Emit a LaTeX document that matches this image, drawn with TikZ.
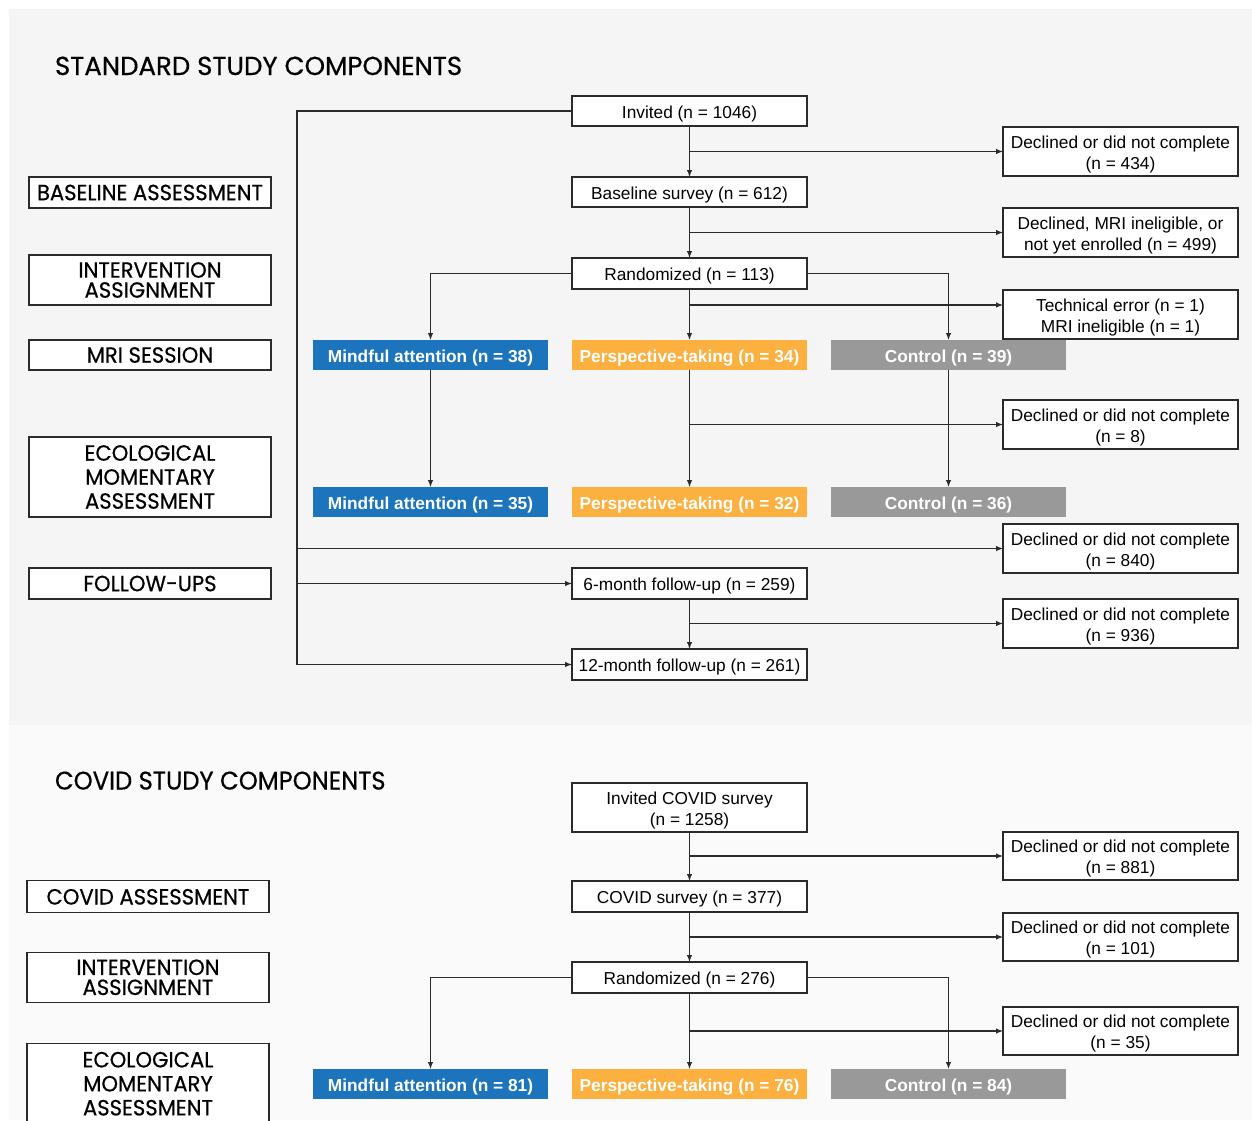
\documentclass[tikz,border=0pt]{standalone}
\usepackage{fontspec}
\setmainfont{Liberation Sans}
\newfontfamily\stagefont[FakeStretch=0.96,FakeBold=0.5]{Poppins}
\newfontfamily\headfont[FakeStretch=1.0,FakeBold=0.5]{Poppins}
\newfontfamily\headfontnarrow[FakeStretch=0.95,FakeBold=0.5]{Poppins}
\usetikzlibrary{arrows.meta,calc}
\definecolor{panelA}{HTML}{F5F5F5}
\definecolor{panelB}{HTML}{FAFAFA}
\definecolor{ink}{HTML}{2B2B2B}
\definecolor{mindblue}{HTML}{1C75BC}
\definecolor{perspor}{HTML}{FBB040}
\definecolor{ctrlgray}{HTML}{999999}

\begin{document}
\begin{tikzpicture}[x=1pt,y=-1pt,
  every node/.style={inner sep=0pt, outer sep=0pt},
  flowbox/.style={draw=ink, fill=white, line width=1.1pt, minimum width=235pt, minimum height=#1,
    align=center, text height=18pt, font=\fontsize{17.3}{21}\selectfont},
  flowbox/.default=31pt,
  % two-line boxes: the text block is a vbox whose baseline is its last line
  flowtwo/.style={flowbox=#1, text height=39.5pt},
  flowtwo/.default=49pt,
  stagebox/.style={draw=ink, fill=white, line width=1.1pt, minimum width=242pt, minimum height=#1,
    align=center, font=\stagefont\fontsize{22}{20}\selectfont},
  stagebox/.default=31pt,
  armbox/.style={fill=#1, minimum width=235pt, minimum height=30pt, text=white,
    text height=18pt, font=\bfseries\fontsize{17.3}{21}\selectfont},
  conn/.style={draw=ink, line width=1.1pt},
  arr/.style={conn, -{Latex[length=7pt,width=5.5pt]}},
  heading/.style={anchor=base west, font=\headfont\fontsize{26}{30}\selectfont}
]
\useasboundingbox (0,0) rectangle (1252,1120);
% panels
\fill[panelA] (9,9) rectangle (1252,725);
\fill[panelB] (9,725) rectangle (1252,1120);

% ---------------- standard study ----------------
\node[heading] (t1) at (55,75) {STANDARD STUDY COMPONENTS};

\node[stagebox] (s1) at (150,192.5) {BASELINE ASSESSMENT};
\node[stagebox=50pt] (s2) at (150,280) {INTERVENTION\\ASSIGNMENT};
\node[stagebox=30pt] (s3) at (150,355) {MRI SESSION};
\node[stagebox=80pt, font=\stagefont\fontsize{22}{24}\selectfont] (s4) at (150,477) {ECOLOGICAL\\MOMENTARY\\ASSESSMENT};
\node[stagebox] (s5) at (150,583.5) {FOLLOW-UPS};

\node[flowbox=30pt] (inv) at (689.5,111) {Invited (n = 1046)};
\node[flowbox=30pt] (base) at (689.5,192) {Baseline survey (n = 612)};
\node[flowbox] (rand) at (689.5,273.5) {Randomized (n = 113)};
\node[flowbox] (fu6) at (689.5,583.5) {6-month follow-up (n = 259)};
\node[flowbox] (fu12) at (689.5,664.5) {12-month follow-up (n = 261)};

\node[flowtwo] (d1) at (1120.5,151.5) {Declined or did not complete\\(n = 434)};
\node[flowtwo] (d2) at (1120.5,232.5) {Declined, MRI ineligible, or\\not yet enrolled (n = 499)};
\node[flowtwo] (tech) at (1120.5,314.5) {Technical error (n = 1)\\MRI ineligible (n = 1)};
\node[flowtwo] (d3) at (1120.5,424.5) {Declined or did not complete\\(n = 8)};
\node[flowtwo] (d4) at (1120.5,548.5) {Declined or did not complete\\(n = 840)};
\node[flowtwo] (d5) at (1120.5,623.5) {Declined or did not complete\\(n = 936)};

\node[armbox=mindblue] (ma1) at (430.5,355) {Mindful attention (n = 38)};
\node[armbox=perspor] (pt1) at (689.5,355) {Perspective-taking (n = 34)};
\node[armbox=ctrlgray] (ct1) at (948.5,355) {Control (n = 39)};
\node[armbox=mindblue] (ma2) at (430.5,502) {Mindful attention (n = 35)};
\node[armbox=perspor] (pt2) at (689.5,502) {Perspective-taking (n = 32)};
\node[armbox=ctrlgray] (ct2) at (948.5,502) {Control (n = 36)};

\coordinate (spine) at (297,0);
\coordinate (techrow) at (0,305);

\draw[arr] (inv) -- (base);
\draw[arr] (inv.south |- d1.west) -- (d1.west);
\draw[arr] (base) -- (rand);
\draw[arr] (base.south |- d2.west) -- (d2.west);
\draw[arr] (rand.west) -| (ma1.north);
\draw[arr] (rand) -- (pt1);
\draw[arr] (rand.east) -| (ct1.north);
\draw[arr] (rand.south |- techrow) -- (tech.west |- techrow);
\draw[arr] (ma1) -- (ma2);
\draw[arr] (pt1) -- (pt2);
\draw[arr] (ct1) -- (ct2);
\draw[arr] (pt1.south |- d3.west) -- (d3.west);
\draw[arr] (inv.west) -| (spine |- fu12.west) -- (fu12.west);
\draw[arr] (spine |- d4.west) -- (d4.west);
\draw[arr] (spine |- fu6.west) -- (fu6.west);
\draw[arr] (fu6) -- (fu12);
\draw[arr] (fu6.south |- d5.west) -- (d5.west);

% ---------------- COVID study ----------------
\node[heading, font=\headfontnarrow\fontsize{25.5}{30}\selectfont] (t2) at (55,789.5) {COVID STUDY COMPONENTS};

\node[stagebox=32pt] (c1) at (148,896.8) {COVID ASSESSMENT};
\node[stagebox=50pt] (c2) at (148,977.3) {INTERVENTION\\ASSIGNMENT};
\node[stagebox=80pt, font=\stagefont\fontsize{22}{24}\selectfont] (c3) at (148,1083.7) {ECOLOGICAL\\MOMENTARY\\ASSESSMENT};

\node[flowtwo] (cinv) at (689.5,807.5) {Invited COVID survey\\(n = 1258)};
\node[flowbox] (csurv) at (689.5,896.5) {COVID survey (n = 377)};
\node[flowbox] (crand) at (689.5,977.5) {Randomized (n = 276)};

\node[flowtwo=48pt] (cd1) at (1120.5,856) {Declined or did not complete\\(n = 881)};
\node[flowtwo=48pt] (cd2) at (1120.5,937) {Declined or did not complete\\(n = 101)};
\node[flowtwo=48pt] (cd3) at (1120.5,1031) {Declined or did not complete\\(n = 35)};

\node[armbox=mindblue] (cma) at (430.5,1084) {Mindful attention (n = 81)};
\node[armbox=perspor] (cpt) at (689.5,1084) {Perspective-taking (n = 76)};
\node[armbox=ctrlgray] (cct) at (948.5,1084) {Control (n = 84)};

\draw[arr] (cinv) -- (csurv);
\draw[arr] (cinv.south |- cd1.west) -- (cd1.west);
\draw[arr] (csurv) -- (crand);
\draw[arr] (csurv.south |- cd2.west) -- (cd2.west);
\draw[arr] (crand.west) -| (cma.north);
\draw[arr] (crand) -- (cpt);
\draw[arr] (crand.east) -| (cct.north);
\draw[arr] (crand.south |- cd3.west) -- (cd3.west);
\end{tikzpicture}
\end{document}
